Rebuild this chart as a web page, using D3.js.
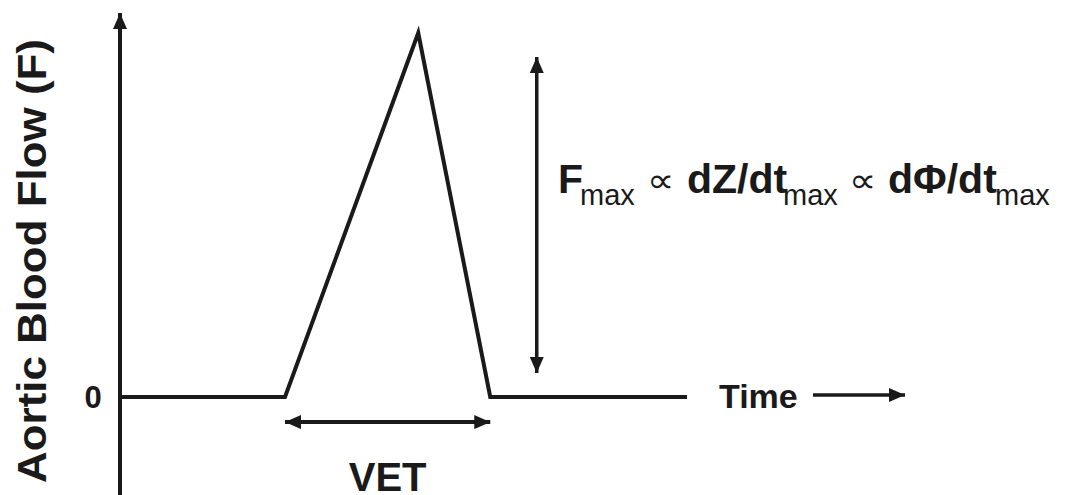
<!DOCTYPE html>
<html>
<head>
  <script src="https://d3js.org/d3.v7.min.js"></script>
  <style>
    body { margin: 0; background: #fff; }
    text { font-family: "Liberation Sans", Arial, sans-serif; fill: #1a1a1a; }
    .bold { font-weight: bold; }
  </style>
</head>
<body>
  <div id="chart"></div>
  <script>
    // flow curve (normalised time, normalised flow)
    const times = [0, 0.291, 0.526, 0.653, 1.0];
    const flows = [0, 0, 1, 0, 0];
    const yTicks = [0];
    const yLabel = "Aortic Blood Flow (F)";
    const xLabel = "Time";
    const vetLabel = "VET";

    const width = 1067, height = 495;
    const ink = "#1a1a1a";

    const x = d3.scaleLinear().domain([0, 1]).range([120, 687]);
    const y = d3.scaleLinear().domain([0, 1]).range([397, 33]);

    const svg = d3.select("#chart").append("svg")
      .attr("width", width)
      .attr("height", height);

    // arrow head marker
    const defs = svg.append("defs");
    defs.append("marker")
      .attr("id", "head")
      .attr("viewBox", "0 0 16 14")
      .attr("refX", 16)
      .attr("refY", 7)
      .attr("markerWidth", 16)
      .attr("markerHeight", 14)
      .attr("markerUnits", "userSpaceOnUse")
      .attr("orient", "auto-start-reverse")
      .append("path")
      .attr("d", "M0,0 L16,7 L0,14 Z")
      .attr("fill", ink);

    // y axis with arrow
    svg.append("line")
      .attr("x1", x(0)).attr("x2", x(0))
      .attr("y1", y(-0.28)).attr("y2", y(1.055))
      .attr("stroke", ink).attr("stroke-width", 4)
      .attr("marker-end", "url(#head)");

    // zero tick label
    svg.selectAll(".ytick")
      .data(yTicks)
      .enter().append("text")
      .attr("class", "bold")
      .attr("x", 93)
      .attr("y", d => y(d))
      .attr("dy", "0.35em")
      .attr("text-anchor", "middle")
      .attr("font-size", 31)
      .text(d => d);

    // y axis label
    svg.append("text")
      .attr("class", "bold")
      .attr("transform", `translate(46,261) rotate(-90)`)
      .attr("text-anchor", "middle")
      .attr("font-size", 40)
      .attr("textLength", 444)
      .attr("lengthAdjust", "spacingAndGlyphs")
      .text(yLabel);

    // flow curve
    const line = d3.line()
      .x((d, i) => x(times[i]))
      .y(d => y(d));

    svg.append("path")
      .datum(flows)
      .attr("d", line)
      .attr("fill", "none")
      .attr("stroke", ink)
      .attr("stroke-width", 4)
      .attr("stroke-linejoin", "miter");

    // Fmax double arrow
    svg.append("line")
      .attr("x1", x(0.735)).attr("x2", x(0.735))
      .attr("y1", y(0.066)).attr("y2", y(0.934))
      .attr("stroke", ink).attr("stroke-width", 3.5)
      .attr("marker-start", "url(#head)")
      .attr("marker-end", "url(#head)");

    // formula, pieces placed by their left edge
    const f = svg.append("text").attr("y", 193);
    const parts = [
      ["F", "b", 558], ["max", "s", 580],
      ["dZ/dt", "b", 687], ["max", "s", 783],
      ["d\u03A6/dt", "b", 888], ["max", "s", 995]
    ];
    parts.forEach(([t, k, px]) => {
      const ts = f.append("tspan").attr("x", px).text(t);
      if (k === "b") ts.attr("y", 193).attr("font-weight", "bold").attr("font-size", 41);
      if (k === "s") ts.attr("y", 205).attr("font-size", 29);
    });
    // proportional-to signs
    [647, 849].forEach(px => {
      svg.append("text")
        .attr("x", px)
        .attr("y", 192)
        .attr("font-family", "DejaVu Sans")
        .attr("font-size", 34)
        .attr("textLength", 27)
        .attr("lengthAdjust", "spacingAndGlyphs")
        .attr("fill", "#333")
        .text("\u221D");
    });

    // VET double arrow
    svg.append("line")
      .attr("x1", x(times[1])).attr("x2", x(times[3]))
      .attr("y1", y(-0.069)).attr("y2", y(-0.069))
      .attr("stroke", ink).attr("stroke-width", 4)
      .attr("marker-start", "url(#head)")
      .attr("marker-end", "url(#head)");

    svg.append("text")
      .attr("class", "bold")
      .attr("x", (x(times[1]) + x(times[3])) / 2)
      .attr("y", 491)
      .attr("text-anchor", "middle")
      .attr("font-size", 40)
      .text(vetLabel);

    // time label + arrow
    svg.append("text")
      .attr("class", "bold")
      .attr("x", 719)
      .attr("y", 408)
      .attr("font-size", 34)
      .text(xLabel);

    svg.append("line")
      .attr("x1", 813).attr("x2", 905)
      .attr("y1", 395).attr("y2", 395)
      .attr("stroke", ink).attr("stroke-width", 3.5)
      .attr("marker-end", "url(#head)");
  </script>
</body>
</html>
